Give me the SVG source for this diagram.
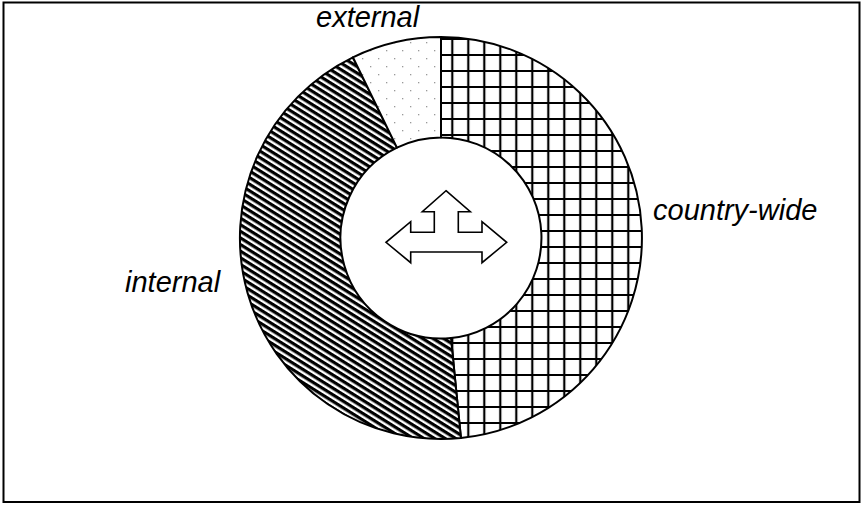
<svg xmlns="http://www.w3.org/2000/svg" width="862" height="505" viewBox="0 0 862 505">
<style>
.lbl{font-family:"Liberation Sans",Arial,sans-serif;font-style:italic;font-size:29px;fill:#000}
.seg{stroke:#000;stroke-width:2;stroke-linejoin:round}
</style>
<defs>
<pattern id="grid" patternUnits="userSpaceOnUse" x="444.3" y="47" width="16" height="16">
<rect width="16" height="16" fill="#fff"/>
<path d="M8,0V16M0,8H16" stroke="#000" stroke-width="2.2"/>
</pattern>
<pattern id="diag" patternUnits="userSpaceOnUse" width="20" height="5.6" patternTransform="rotate(32)">
<rect width="20" height="5.6" fill="#fff"/>
<rect y="0" width="20" height="3.2" fill="#000"/>
</pattern>
<pattern id="dots" patternUnits="userSpaceOnUse" x="0" y="0" width="16" height="16">
<rect width="16" height="16" fill="#fff"/>
<rect x="2" y="2" width="1.3" height="1.3" fill="#999"/>
<rect x="10" y="10" width="1.3" height="1.3" fill="#999"/>
</pattern>
</defs>
<rect x="3.5" y="2.5" width="856" height="499.5" fill="#fff" stroke="#000" stroke-width="2"/>
<g id="country-wide">
<path class="seg" fill="url(#grid)" d="M441,37 A201,201 0 0 1 460.96,438 L450.98,338 A100.5,100.5 0 0 0 441,137.5 Z"/>
<text class="lbl" x="653" y="220">country-wide</text>
</g>
<g id="internal">
<path class="seg" fill="url(#diag)" d="M460.96,438 A201,201 0 0 1 352.9,57.3 L396.94,147.67 A100.5,100.5 0 0 0 450.98,338 Z"/>
<text class="lbl" x="125" y="291.5">internal</text>
</g>
<g id="external">
<path class="seg" fill="url(#dots)" d="M352.9,57.3 A201,201 0 0 1 441,37 L441,137.5 A100.5,100.5 0 0 0 396.94,147.67 Z"/>
<text class="lbl" x="316" y="27">external</text>
</g>
<g id="arrow">
<path fill="#fff" stroke="#000" stroke-width="1.6" stroke-linejoin="miter" d="M446,190.7 L470.3,211.7 L458.3,211.7 L458.3,232.3 L482,232.3 L482,221.7 L506.7,242.3 L482,262.7 L482,252 L410.7,252 L410.7,262.7 L386,242.3 L410.7,221.7 L410.7,232.3 L434.3,232.3 L434.3,211.7 L422.3,211.7 Z"/>
</g>
<g id="connectors"></g>
</svg>
